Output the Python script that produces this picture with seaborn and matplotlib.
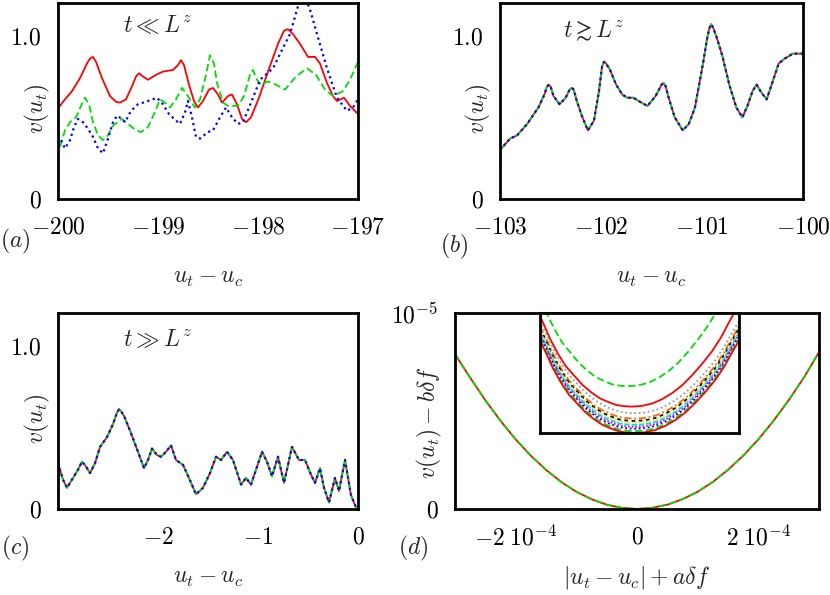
import numpy as np
import seaborn as sns
import matplotlib
matplotlib.use("Agg")
import matplotlib.pyplot as plt

# ---- panel (a): t << L^z, three samples ----
a_red_x = [-200.00, -199.93, -199.86, -199.78, -199.71, -199.68, -199.65, -199.62, -199.56, -199.48,
           -199.42, -199.38, -199.32, -199.26, -199.22, -199.19, -199.15, -199.10, -199.02, -198.95,
           -198.85, -198.80, -198.77, -198.74, -198.69, -198.64, -198.60, -198.55, -198.49, -198.45,
           -198.40, -198.36, -198.30, -198.26, -198.21, -198.16, -198.12, -198.07, -197.99, -197.90,
           -197.80, -197.74, -197.70, -197.65, -197.58, -197.50, -197.43, -197.38, -197.31, -197.25,
           -197.21, -197.14, -197.08, -197.00]
a_red_y = [0.555, 0.61, 0.66, 0.74, 0.83, 0.86, 0.87, 0.84, 0.74, 0.63,
           0.595, 0.59, 0.61, 0.69, 0.75, 0.77, 0.75, 0.73, 0.76, 0.78,
           0.79, 0.82, 0.85, 0.82, 0.70, 0.60, 0.56, 0.60, 0.67, 0.68,
           0.64, 0.59, 0.63, 0.64, 0.58, 0.49, 0.47, 0.50, 0.62, 0.78,
           0.95, 1.03, 1.04, 1.01, 0.95, 0.87, 0.87, 0.83, 0.71, 0.63,
           0.60, 0.62, 0.57, 0.52]

a_green_x = [-199.98, -199.93, -199.88, -199.82, -199.77, -199.73, -199.69, -199.65, -199.60, -199.55,
             -199.50, -199.45, -199.36, -199.30, -199.22, -199.17, -199.10, -199.04, -198.98, -198.93,
             -198.88, -198.82, -198.76, -198.70, -198.63, -198.58, -198.52, -198.48, -198.44, -198.41,
             -198.35, -198.30, -198.20, -198.14, -198.08, -198.05, -198.01, -197.97, -197.90, -197.82,
             -197.73, -197.62, -197.51, -197.42, -197.33, -197.25, -197.15, -197.08, -197.00]
a_green_y = [0.32, 0.42, 0.47, 0.50, 0.57, 0.62, 0.58, 0.47, 0.39, 0.36,
             0.39, 0.45, 0.49, 0.46, 0.42, 0.41, 0.44, 0.52, 0.61, 0.59,
             0.56, 0.61, 0.68, 0.63, 0.56, 0.61, 0.76, 0.88, 0.83, 0.71,
             0.59, 0.57, 0.57, 0.63, 0.76, 0.79, 0.73, 0.70, 0.72, 0.70,
             0.67, 0.75, 0.80, 0.76, 0.67, 0.63, 0.66, 0.73, 0.84]

a_blue_x = [-200.00, -199.97, -199.93, -199.88, -199.84, -199.80, -199.75, -199.70, -199.65, -199.60,
            -199.55, -199.50, -199.45, -199.41, -199.36, -199.33, -199.27, -199.20, -199.10, -199.01,
            -198.95, -198.89, -198.82, -198.78, -198.73, -198.70, -198.66, -198.62, -198.58, -198.50,
            -198.45, -198.38, -198.32, -198.26, -198.20, -198.15, -198.05, -197.98, -197.85, -197.77,
            -197.68, -197.60, -197.55, -197.48, -197.41, -197.31, -197.21, -197.11, -197.05, -197.00]
a_blue_y = [0.39, 0.36, 0.31, 0.36, 0.44, 0.49, 0.47, 0.43, 0.38, 0.31,
            0.28, 0.37, 0.47, 0.51, 0.49, 0.47, 0.54, 0.58, 0.60, 0.62,
            0.58, 0.52, 0.48, 0.46, 0.53, 0.60, 0.50, 0.38, 0.37, 0.41,
            0.42, 0.50, 0.56, 0.50, 0.46, 0.47, 0.62, 0.73, 0.80, 0.90,
            1.01, 1.18, 1.27, 1.16, 1.01, 0.80, 0.62, 0.54, 0.56, 0.61]

# ---- panel (b): t >~ L^z, samples collapse ----
b_x = [-103.00, -102.90, -102.83, -102.73, -102.62, -102.56, -102.54, -102.52, -102.50, -102.47,
       -102.41, -102.35, -102.31, -102.29, -102.27, -102.24, -102.19, -102.13, -102.07, -102.02,
       -101.99, -101.97, -101.95, -101.91, -101.85, -101.79, -101.74, -101.68, -101.60, -101.54,
       -101.46, -101.40, -101.38, -101.36, -101.33, -101.27, -101.19, -101.13, -101.07, -100.99,
       -100.95, -100.93, -100.91, -100.89, -100.86, -100.80, -100.73, -100.66, -100.60, -100.55,
       -100.50, -100.46, -100.41, -100.36, -100.30, -100.24, -100.18, -100.10, -100.00]
b_y = [0.30, 0.37, 0.39, 0.46, 0.56, 0.64, 0.68, 0.70, 0.69, 0.63,
       0.58, 0.62, 0.67, 0.68, 0.67, 0.60, 0.51, 0.42, 0.48, 0.66,
       0.81, 0.84, 0.83, 0.79, 0.70, 0.64, 0.62, 0.62, 0.59, 0.57,
       0.63, 0.70, 0.71, 0.69, 0.62, 0.50, 0.42, 0.46, 0.56, 0.83,
       0.98, 1.04, 1.07, 1.05, 1.00, 0.88, 0.70, 0.56, 0.50, 0.57,
       0.66, 0.70, 0.65, 0.61, 0.72, 0.83, 0.86, 0.89, 0.89]

# ---- panel (c): t >> L^z ----
c_x = [-3.00, -2.95, -2.91, -2.85, -2.80, -2.76, -2.72, -2.68, -2.63, -2.58,
       -2.51, -2.45, -2.41, -2.39, -2.37, -2.34, -2.28, -2.20, -2.14, -2.10,
       -2.06, -2.01, -1.97, -1.92, -1.87, -1.82, -1.75, -1.69, -1.62, -1.55,
       -1.48, -1.42, -1.37, -1.31, -1.25, -1.17, -1.12, -1.07, -1.02, -0.96,
       -0.91, -0.86, -0.80, -0.74, -0.66, -0.59, -0.53, -0.47, -0.43, -0.38,
       -0.34, -0.29, -0.23, -0.19, -0.13, -0.07, -0.02, 0.00]
c_y = [0.28, 0.18, 0.13, 0.19, 0.24, 0.29, 0.26, 0.22, 0.28, 0.38,
       0.44, 0.52, 0.59, 0.61, 0.60, 0.57, 0.48, 0.35, 0.25, 0.30,
       0.37, 0.33, 0.32, 0.35, 0.39, 0.30, 0.27, 0.19, 0.09, 0.13,
       0.22, 0.32, 0.30, 0.35, 0.30, 0.15, 0.19, 0.15, 0.24, 0.35,
       0.29, 0.20, 0.32, 0.16, 0.38, 0.30, 0.30, 0.21, 0.16, 0.25,
       0.13, 0.04, 0.19, 0.11, 0.30, 0.085, 0.01, 0.01]

# ---- panel (d): collapsed parabola (x in 1e-4, y in 1e-5) ----
d_x = [-3.0, -2.75, -2.5, -2.25, -2.0, -1.75, -1.5, -1.25, -1.0, -0.75, -0.5, -0.25, 0.0,
       0.25, 0.5, 0.75, 1.0, 1.25, 1.5, 1.75, 2.0, 2.25, 2.5, 2.75, 3.0]
d_y = [0.79, 0.67, 0.555, 0.45, 0.355, 0.272, 0.20, 0.138, 0.088, 0.05, 0.022, 0.006, 0.0,
       0.006, 0.022, 0.05, 0.088, 0.138, 0.20, 0.272, 0.355, 0.45, 0.555, 0.67, 0.80]

# inset: zoom on the minimum (normalised box coordinates)
inset_x = [-1.0, -0.93, -0.87, -0.79, -0.71, -0.62, -0.54, -0.45, -0.37, -0.28, -0.2, -0.12,
           -0.05, 0.05, 0.16, 0.26, 0.36, 0.46, 0.56, 0.66, 0.76, 0.85, 0.93, 1.0]
inset_y = [0.77, 0.65, 0.54, 0.42, 0.32, 0.24, 0.17, 0.11, 0.067, 0.035, 0.012, 0.003,
           0.0, 0.005, 0.025, 0.06, 0.108, 0.17, 0.25, 0.34, 0.44, 0.55, 0.67, 0.77]
inset_offset = [0.39, 0.22, 0.165, 0.12, 0.10, 0.085, 0.067, 0.05, 0.035, 0.015, 0.0]
inset_shift = [-0.07, -0.03, 0.0, 0.0, 0.0, 0.0, 0.0, 0.0, 0.0, 0.0, 0.0]
inset_scale = [1.15, 1.05, 1.0, 1.0, 1.0, 1.0, 1.0, 1.0, 1.0, 1.0, 1.0]
inset_colors = ["#00dd00", "#ff0000", "#999999", "#ff6a00", "#000000", "#f0e000",
                "#00ddee", "#ee00ee", "#0000ff", "#00dd00", "#ff0000"]
inset_styles = [(0, (4, 2)), "-", (0, (1, 1.5)), (0, (4, 1.5, 1, 1.5)), (0, (2, 2)),
                (0, (1, 1)), (0, (3, 1)), (0, (1, 1)), (0, (1, 1.5)), (0, (4, 2)), "-"]

RED, GREEN, BLUE = "#ff0000", "#00dd00", "#0000ff"
DASH = (0, (4, 2))
DOT = (0, (1, 1.6))

sns.set_style("white")
plt.rcParams["mathtext.fontset"] = "cm"
plt.rcParams["font.family"] = ["DejaVu Serif"]
FS = 17

fig = plt.figure(figsize=(8.3, 5.95), dpi=100)
ax_a = fig.add_axes([58/830, 1-199/595, 300/830, 196/595])
ax_b = fig.add_axes([500/830, 1-199/595, 303/830, 196/595])
ax_c = fig.add_axes([58/830, 1-509/595, 300/830, 196/595])
ax_d = fig.add_axes([455/830, 1-509/595, 364/830, 196/595])
ax_in = fig.add_axes([540/830, 1-433/595, 199/830, 120/595])


def frame(ax):
    for s in ax.spines.values():
        s.set_visible(True)
        s.set_linewidth(2.0)
        s.set_color("black")
    ax.tick_params(direction="in", length=6, width=1.8, top=False, right=False,
                   labelsize=FS, colors="black")
    ax.tick_params(axis="x", pad=12)
    ax.tick_params(axis="y", pad=12)
    ax.grid(False)


def line(ax, x, y, color, ls, lw=1.3):
    sns.lineplot(x=x, y=y, ax=ax, color=color, linestyle=ls, linewidth=lw,
                 estimator=None, sort=False)


# (a)
line(ax_a, a_red_x, a_red_y, RED, "-")
line(ax_a, a_green_x, a_green_y, GREEN, DASH)
line(ax_a, a_blue_x, a_blue_y, BLUE, DOT, 1.6)
ax_a.set_xlim(-200, -197)
ax_a.set_xticks([-200, -199, -198, -197], ["$-200$", "$-199$", "$-198$", "$-197$"])
ax_a.text(-199.0, 1.06, r"$t \ll L^z$", fontsize=FS, ha="center", va="center")

# (b)
line(ax_b, b_x, b_y, RED, "-")
line(ax_b, b_x, b_y, GREEN, DASH)
line(ax_b, b_x, b_y, BLUE, DOT, 1.6)
ax_b.set_xlim(-103, -100)
ax_b.set_xticks([-103, -102, -101, -100], ["$-103$", "$-102$", "$-101$", "$-100$"])
ax_b.text(-102.07, 1.03, r"$t \gtrsim L^z$", fontsize=FS, ha="center", va="center")

# (c)
line(ax_c, c_x, c_y, RED, "-")
line(ax_c, c_x, c_y, GREEN, DASH)
line(ax_c, c_x, c_y, BLUE, DOT, 1.6)
ax_c.set_xlim(-3, 0)
ax_c.set_xticks([-2, -1, 0], ["$-2$", "$-1$", "$0$"])
ax_c.text(-2.0, 1.04, r"$t \gg L^z$", fontsize=FS, ha="center", va="center")

for ax, ly in ((ax_a, -0.40), (ax_b, -0.40), (ax_c, -0.35)):
    ax.set_ylim(0, 1.2)
    ax.set_yticks([0, 1.0], ["$0$", "$1.0$"])
    frame(ax)
    ax.set_xlabel(r"$u_t - u_c$", fontsize=FS, va="center")
    ax.xaxis.set_label_coords(0.5, ly)
    ax.set_ylabel(r"$v(u_t)$", fontsize=FS, va="center")
    ax.yaxis.set_label_coords(-0.07, 0.46)

# (d)
dx = np.array(d_x) * 1e-4
dy = np.array(d_y) * 1e-5
line(ax_d, dx, dy, RED, "-")
line(ax_d, dx, dy, GREEN, DASH)
ax_d.set_xlim(-3e-4, 3e-4)
ax_d.set_ylim(0, 1e-5)
ax_d.set_xticks([-2e-4, 0, 2e-4], [r"$-2\;10^{-4}$", "$0$", r"$2\;10^{-4}$"])
ax_d.set_yticks([0, 1e-5], ["$0$", "$10^{-5}$"])
frame(ax_d)
ax_d.set_xlabel(r"$|u_t - u_c| + a\delta f$", fontsize=FS, va="center")
ax_d.xaxis.set_label_coords(0.5, -0.35)
ax_d.set_ylabel(r"$v(u_t) - b\delta f$", fontsize=FS, va="center")
ax_d.yaxis.set_label_coords(-0.069, 0.44)

# inset
for off, sh, sc, col, ls in zip(inset_offset, inset_shift, inset_scale, inset_colors, inset_styles):
    xs = np.array(inset_x) + sh
    ys = off + sc * np.array(inset_y)
    line(ax_in, xs, ys, col, ls, 1.3)
ax_in.set_xlim(-1, 1)
ax_in.set_ylim(0, 1)
ax_in.set_xticks([])
ax_in.set_yticks([])
for s in ax_in.spines.values():
    s.set_visible(True)
    s.set_linewidth(2.0)
    s.set_color("black")

# panel letters
fig.text(15/830, 1-241/595, "$(a)$", fontsize=FS, ha="center", va="center")
fig.text(454/830, 1-246/595, "$(b)$", fontsize=FS, ha="center", va="center")
fig.text(15/830, 1-548/595, "$(c)$", fontsize=FS, ha="center", va="center")
fig.text(413/830, 1-548/595, "$(d)$", fontsize=FS, ha="center", va="center")

fig.savefig("out.png", dpi=100)
